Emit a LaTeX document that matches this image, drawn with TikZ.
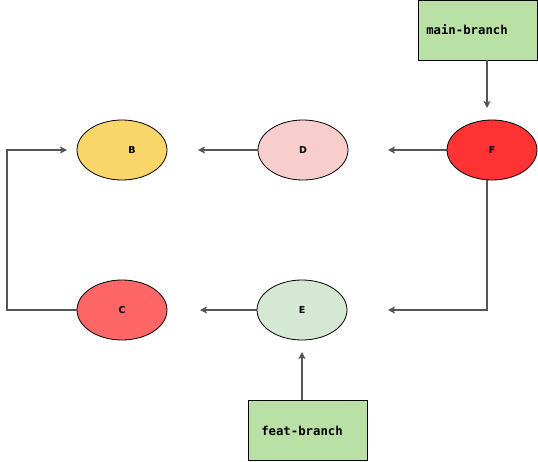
\documentclass[tikz,border=0pt]{standalone}
\usepackage{fontspec}
\setmainfont{DejaVu Sans}
\newfontfamily\monob{DejaVu Sans Mono}
\usetikzlibrary{arrows.meta,shapes.geometric}
\definecolor{cB}{HTML}{F9D56A}
\definecolor{cD}{HTML}{F8CECC}
\definecolor{cF}{HTML}{FF3333}
\definecolor{cC}{HTML}{FF6666}
\definecolor{cE}{HTML}{D5E8D4}
\definecolor{cbox}{HTML}{B9E0A5}
\definecolor{ln}{HTML}{555555}
\tikzset{
  commit/.style={ellipse, draw=black, line width=0.8pt, minimum width=90pt, minimum height=60pt, inner sep=0pt, font=\fontsize{9.5}{10}\selectfont\bfseries},
  branchbox/.style={rectangle, draw=black, line width=0.8pt, fill=cbox, minimum width=119pt, minimum height=60pt, inner sep=0pt, font=\monob\fontsize{12.3}{14}\selectfont\bfseries},
  conn/.style={draw=ln, line width=1.1pt, -{Stealth[width=7pt,length=7pt,inset=1.5pt]}},
}
\begin{document}
\begin{tikzpicture}[x=1pt,y=-1pt]
\useasboundingbox (0,0) rectangle (538,461);
\node[branchbox] (main) at (477.5,30) {main-branch\kern21pt};
\node[branchbox] (feat) at (307.5,430.5) {feat-branch\kern11pt};
\node[commit, fill=cF] (F) at (492,150) {F};
\node[commit, fill=cD] (D) at (303,150) {D};
\node[commit, fill=cB] (B) at (122,150) {\kern20pt B};
\node[commit, fill=cC] (C) at (122,310) {C};
\node[commit, fill=cE] (E) at (302,310) {E};
\coordinate (aF) at (388,150);
\coordinate (aD) at (198,150);
\coordinate (aE) at (200,310);
\coordinate (aB) at (67,150);
\coordinate (aFE) at (388,310);
\coordinate (aM) at (487,108);
\coordinate (aEf) at (302,352);
\draw[conn] (F.west) -- (aF);
\draw[conn] (D.west) -- (aD);
\draw[conn] (E.west) -- (aE);
\draw[conn] (C.west) -- (7,310) -- (7,150) -- (aB);
\draw[conn] (F.south -| aM) -- (487,310) -- (aFE);
\draw[conn] (main.south -| aM) -- (aM);
\draw[conn] (feat.north -| aEf) -- (aEf);
\end{tikzpicture}
\end{document}
